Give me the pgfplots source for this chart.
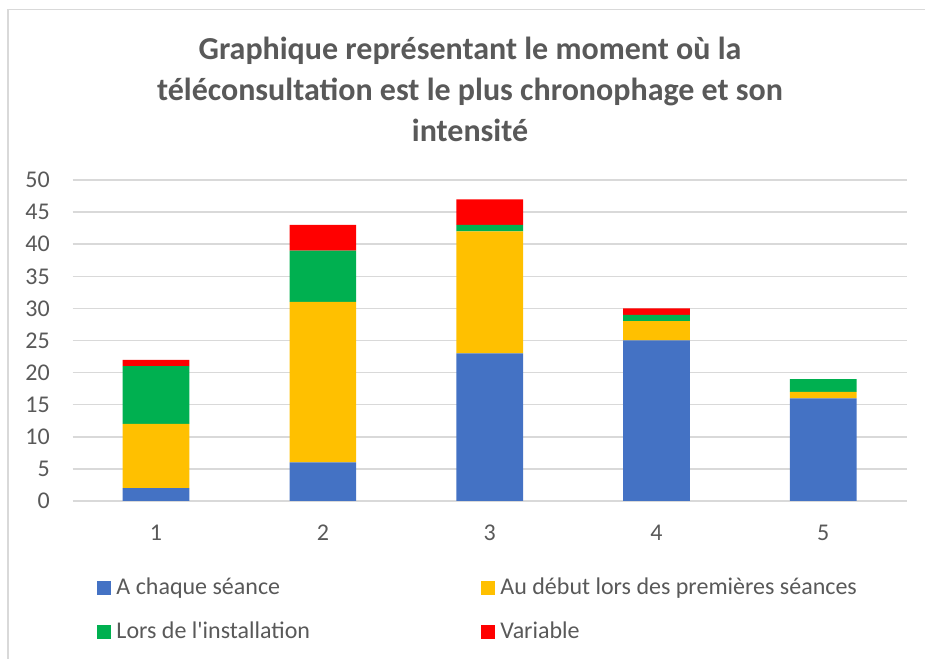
\documentclass[border=0pt]{standalone}
\usepackage{fontspec}
\setmainfont{Carlito}
\usepackage{pgfplots}
\pgfplotsset{compat=1.18}
\definecolor{cblue}{HTML}{4472C4}
\definecolor{cyellow}{HTML}{FFC000}
\definecolor{cgreen}{HTML}{00B050}
\definecolor{cred}{HTML}{FF0000}
\definecolor{cgrid}{HTML}{D9D9D9}
\definecolor{ctext}{HTML}{595959}
\begin{document}
\begin{tikzpicture}
\useasboundingbox (0,0) rectangle (693.75pt,494.25pt);
\draw[cgrid, line width=1pt] (6pt,0) -- (6pt,487.125pt) -- (693.75pt,487.125pt);
\node[font=\fontsize{24}{30.75}\selectfont\bfseries, text=ctext, align=center] at (352.5pt,427.5pt)
  {Graphique représentant le moment où la\\téléconsultation est le plus chronophage et son\\intensité};
\begin{axis}[
  at={(54.5pt,118.5pt)}, anchor=south west,
  scale only axis, width=625.5pt, height=240.75pt,
  ybar stacked, bar width=50pt,
  xmin=0.5, xmax=5.5, ymin=0, ymax=50,
  xtick={1,2,3,4,5}, ytick={0,5,...,50},
  ymajorgrids, grid style={cgrid, line width=1.1pt},
  axis line style={draw=none},
  major tick length=0pt,
  tick label style={font=\fontsize{18}{20}\selectfont, text=ctext},
  /pgf/number format/assume math mode=true,
  xticklabel style={anchor=center, yshift=-24pt},
  yticklabel style={anchor=east, inner sep=0pt, xshift=-17pt},
  legend columns=2,
  legend style={draw=none, fill=none, at={(0,0)}, anchor=north west, xshift=18.4pt, yshift=-57.5pt,
    font=\fontsize{18}{20}\selectfont, text=ctext, inner sep=0pt,
    nodes={inner sep=0pt, anchor=base west}, row sep=19.25pt},
  /tikz/every odd column/.append style={column sep=3.75pt},
  legend image code/.code={\fill[#1] (0pt,0pt) rectangle (10.5pt,10.5pt);},
  legend cell align=left,
]
\addplot[fill=cblue, draw=none] coordinates {(1,2) (2,6) (3,23) (4,25) (5,16)};
\addlegendentry{\makebox[273.75pt][l]{A chaque séance}}
\addplot[fill=cyellow, draw=none] coordinates {(1,10) (2,25) (3,19) (4,3) (5,1)};
\addlegendentry{Au début lors des premières séances}
\addplot[fill=cgreen, draw=none] coordinates {(1,9) (2,8) (3,1) (4,1) (5,2)};
\addlegendentry{Lors de l\textquotesingle installation}
\addplot[fill=cred, draw=none] coordinates {(1,1) (2,4) (3,4) (4,1) (5,0)};
\addlegendentry{Variable}
\end{axis}
\end{tikzpicture}
\end{document}
